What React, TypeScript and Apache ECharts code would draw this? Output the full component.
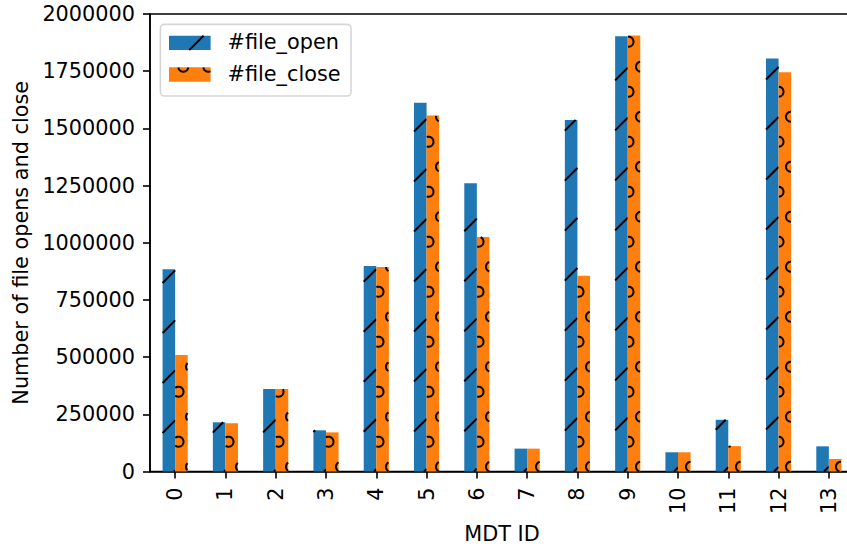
import React, { useEffect, useRef } from "react";
import * as echarts from "echarts";

const categories = ["0", "1", "2", "3", "4", "5", "6", "7", "8", "9", "10", "11", "12", "13"];
const fileOpen = [884000, 215000, 361000, 180000, 898000, 1612000, 1260000, 100000, 1537000, 1903000, 84000, 226000, 1806000, 110000];
const fileClose = [509000, 211000, 361000, 171000, 894000, 1556000, 1025000, 100000, 856000, 1906000, 84000, 111000, 1745000, 55000];
const seriesNames = ["#file_open", "#file_close"];
const yMin = 0;
const yMax = 2000000;
const yInterval = 250000;
const xAxisTitle = "MDT ID";
const yAxisTitle = "Number of file opens and close";

const BLUE = "#1f77b4";
const ORANGE = "#ff7f0e";
const FONT = "DejaVu Sans";
const FS = 20.8;
const HSTYLE = { stroke: "#000", lineWidth: 2, fill: "none" };

function slashHatch(x0: number, y0: number, x1: number, y1: number, phase: number, period = 50) {
  const out: any[] = [];
  const cMin = x0 + y0;
  const cMax = x1 + y1;
  const k = Math.ceil((cMin - phase) / period);
  for (let c = phase + k * period; c <= cMax; c += period) {
    const xa = Math.max(x0, c - y1);
    const xb = Math.min(x1, c - y0);
    if (xb - xa > 0.3) {
      out.push({
        type: "line",
        silent: true,
        shape: { x1: xa, y1: c - xa, x2: xb, y2: c - xb },
        style: { ...HSTYLE },
      });
    }
  }
  return out;
}

function circleHatch(x0: number, y0: number, x1: number, y1: number, rowY0: number, colX0: number, spacing = 25, r = 5) {
  const out: any[] = [];
  const rs = Math.floor((y0 - r - rowY0) / spacing);
  const re = Math.ceil((y1 + r - rowY0) / spacing);
  const N = 72;
  for (let ri = rs; ri <= re; ri++) {
    const cy = rowY0 + ri * spacing;
    const off = ((ri % 2) + 2) % 2 ? spacing / 2 : 0;
    const base = colX0 + off;
    const ks = Math.floor((x0 - r - base) / spacing);
    const ke = Math.ceil((x1 + r - base) / spacing);
    for (let k = ks; k <= ke; k++) {
      const cx = base + k * spacing;
      const pts: (number[] | null)[] = [];
      for (let i = 0; i < N; i++) {
        const a = (i / N) * Math.PI * 2;
        const px = cx + r * Math.cos(a);
        const py = cy + r * Math.sin(a);
        const inside = px >= x0 && px <= x1 && py >= y0 && py <= y1;
        pts.push(inside ? [px, py] : null);
      }
      const s = pts.findIndex((p) => p === null);
      if (s === -1) {
        out.push({ type: "circle", silent: true, shape: { cx, cy, r }, style: { ...HSTYLE } });
        continue;
      }
      let run: number[][] = [];
      const flush = () => {
        if (run.length >= 2) {
          out.push({ type: "polyline", silent: true, shape: { points: run }, style: { ...HSTYLE } });
        }
        run = [];
      };
      for (let j = 1; j <= N; j++) {
        const p = pts[(s + j) % N];
        if (p) run.push(p);
        else flush();
      }
      flush();
    }
  }
  return out;
}

function makeRender(seriesIdx: number) {
  return (params: any, api: any) => {
    const i = api.value(0);
    const v = api.value(1);
    const base = api.coord([i, 0]);
    const top = api.coord([i, v]);
    const bw = api.size([1, 0])[0];
    const w = bw * 0.25;
    const x0 = seriesIdx === 0 ? base[0] - w : base[0];
    const x1 = x0 + w;
    const y0 = top[1];
    const y1 = base[1];
    const children: any[] = [
      {
        type: "rect",
        shape: { x: x0, y: y0, width: w, height: y1 - y0 },
        style: { fill: seriesIdx === 0 ? BLUE : ORANGE },
      },
    ];
    const hatch = seriesIdx === 0 ? slashHatch(x0, y0, x1, y1, 45.5) : circleHatch(x0, y0, x1, y1, 16.7, 16);
    return { type: "group", children: children.concat(hatch) };
  };
}

export default function App() {
  const ref = useRef<HTMLDivElement>(null);
  useEffect(() => {
    if (!ref.current) return;
    const chart = echarts.init(ref.current, null, { renderer: "svg" });

    // legend geometry
    const lx = 160.4, ly = 24.4, lw = 190.6, lh = 71.6;
    const px = 169, pw = 41.6, ph = 14.4;
    const p1y = 35.7, p2y = 67.3;
    const legendEls: any[] = [
      {
        type: "rect",
        z: 100,
        shape: { x: lx, y: ly, width: lw, height: lh, r: 4 },
        style: { fill: "rgba(255,255,255,0.8)", stroke: "#d6d6d6", lineWidth: 1.6 },
      },
      { type: "rect", z: 101, shape: { x: px, y: p1y, width: pw, height: ph }, style: { fill: BLUE } },
      { type: "rect", z: 101, shape: { x: px, y: p2y, width: pw, height: ph }, style: { fill: ORANGE } },
      ...slashHatch(px, p1y, px + pw, p1y + ph, 39.3).map((e) => ({ ...e, z: 102 })),
      ...circleHatch(px, p2y, px + pw, p2y + ph, 16.7, 8.3).map((e) => ({ ...e, z: 102 })),
      {
        type: "text",
        z: 102,
        x: 227.5,
        y: 42.3,
        style: { text: seriesNames[0], fill: "#000", font: `${FS}px "${FONT}"`, verticalAlign: "middle", align: "left" },
      },
      {
        type: "text",
        z: 102,
        x: 227.5,
        y: 74.0,
        style: { text: seriesNames[1], fill: "#000", font: `${FS}px "${FONT}"`, verticalAlign: "middle", align: "left" },
      },
    ];

    const axisLineStyle = { color: "#000", width: 1.6 };

    chart.setOption({
      animation: false,
      backgroundColor: "#fff",
      textStyle: { fontFamily: FONT },
      grid: {
        left: 150,
        top: 14,
        width: 704,
        height: 457.5,
        show: true,
        borderColor: "#000",
        borderWidth: 1.6,
        backgroundColor: "transparent",
        containLabel: false,
        outerBoundsMode: "none",
      },
      xAxis: {
        type: "category",
        data: categories,
        boundaryGap: true,
        name: xAxisTitle,
        nameLocation: "middle",
        nameGap: 52,
        nameTextStyle: { fontSize: FS, color: "#000", fontFamily: FONT },
        axisLine: { show: true, lineStyle: axisLineStyle },
        axisTick: { show: true, alignWithLabel: true, length: 7, lineStyle: axisLineStyle },
        axisLabel: { rotate: 90, fontSize: FS, color: "#000", fontFamily: FONT, margin: 16, interval: 0 },
        splitLine: { show: false },
      },
      yAxis: {
        type: "value",
        min: yMin,
        max: yMax,
        interval: yInterval,
        name: yAxisTitle,
        nameLocation: "middle",
        nameGap: 115,
        nameRotate: 90,
        nameTextStyle: { fontSize: FS, color: "#000", fontFamily: FONT },
        axisLine: { show: true, lineStyle: axisLineStyle },
        axisTick: { show: true, length: 7, lineStyle: axisLineStyle },
        axisLabel: {
          fontSize: FS,
          color: "#000",
          fontFamily: FONT,
          margin: 15,
          formatter: (v: number) => String(v),
        },
        splitLine: { show: false },
      },
      series: [
        {
          type: "custom",
          name: seriesNames[0],
          renderItem: makeRender(0),
          encode: { x: 0, y: 1 },
          data: fileOpen.map((v, i) => [i, v]),
          z: 2,
        },
        {
          type: "custom",
          name: seriesNames[1],
          renderItem: makeRender(1),
          encode: { x: 0, y: 1 },
          data: fileClose.map((v, i) => [i, v]),
          z: 2,
        },
      ],
      graphic: legendEls,
    });
    return () => chart.dispose();
  }, []);
  return (
    <div
      ref={ref}
      style={{ position: "absolute", left: 0, top: 0, width: 847, height: 546 }}
    />
  );
}
